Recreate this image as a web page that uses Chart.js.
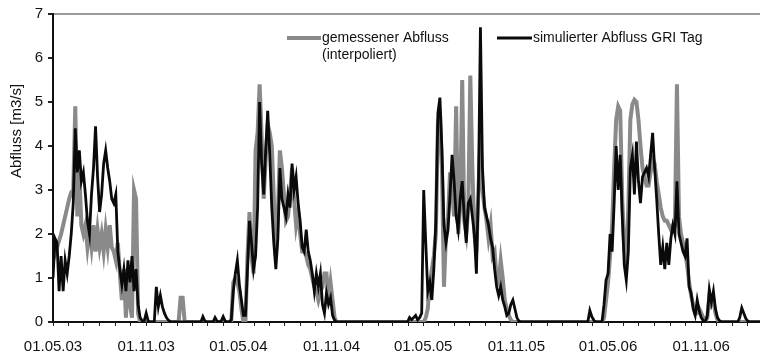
<!DOCTYPE html>
<html>
<head>
<meta charset="utf-8">
<script src="https://cdn.jsdelivr.net/npm/chart.js@4"></script>
<style>
  html, body { margin: 0; padding: 0; background: #fff; }
  #abfluss { display: block; }
</style>
</head>
<body>
<canvas id="abfluss" width="760" height="353"></canvas>
<script>
// one sample every 4 days, starting 01.05.2003
const stepDays = 4;

const measured = [
    1.4, 1.55, 1.7, 1.85, 2.0, 2.2, 2.4, 2.6, 2.8, 2.95,
    3.0, 4.9, 2.4, 3.4, 2.2, 2.0, 2.2, 1.7, 2.1, 1.7,
    2.2, 1.6, 2.1, 1.7, 2.0, 1.6, 2.1, 1.7, 2.2, 1.7,
    1.6, 1.4, 1.8, 1.1, 0.5, 1.2, 0.1, 1.0, 0.4, 0.1,
    3.0, 2.8, 0.2, 0, 0, 0, 0, 0, 0, 0,
    0, 0, 0, 0, 0, 0, 0, 0, 0, 0,
    0, 0, 0, 0.55, 0.55, 0, 0, 0, 0, 0,
    0, 0, 0, 0, 0, 0, 0, 0, 0, 0,
    0, 0, 0, 0, 0, 0, 0, 0, 0, 0.9,
    1.0, 0.9, 0.7, 0.3, 0, 0, 1.5, 2.5, 1.5, 1.1,
    3.9, 4.3, 5.4, 4.2, 2.8, 3.7, 4.5, 4.3, 4.0, 2.8,
    1.5, 2.4, 3.9, 3.5, 2.9, 2.3, 2.4, 2.9, 3.5, 2.8,
    2.2, 2.5, 2.0, 1.6, 1.6, 1.5, 1.3, 1.2, 1.0, 0.8,
    0.7, 0.5, 0.7, 0.8, 1.1, 1.1, 0.5, 0.9, 0.5, 0.1,
    0, 0, 0, 0, 0, 0, 0, 0, 0, 0,
    0, 0, 0, 0, 0, 0, 0, 0, 0, 0,
    0, 0, 0, 0, 0, 0, 0, 0, 0, 0,
    0, 0, 0, 0, 0, 0, 0, 0, 0, 0,
    0, 0, 0, 0, 0.1, 0.3, 0.9, 1.2, 1.5, 2.0,
    4.5, 4.8, 3.5, 0.8, 2.0, 2.4, 3.4, 3.0, 2.4, 4.9,
    2.0, 2.6, 5.5, 2.3, 2.0, 2.6, 5.6, 3.5, 2.0, 1.6,
    3.0, 4.2, 3.0, 2.6, 2.3, 1.9, 2.2, 1.5, 1.6, 1.0,
    0.9, 1.4, 1.0, 0.5, 0.3, 0.15, 0.05, 0, 0, 0,
    0, 0, 0, 0, 0, 0, 0, 0, 0, 0,
    0, 0, 0, 0, 0, 0, 0, 0, 0, 0,
    0, 0, 0, 0, 0, 0, 0, 0, 0, 0,
    0, 0, 0, 0, 0, 0, 0, 0, 0, 0,
    0, 0, 0.1, 0.5, 0.9, 1.5, 2.2, 3.5, 4.6, 4.9,
    4.8, 2.8, 1.7, 1.3, 2.6, 4.6, 4.95, 5.05, 5.0, 4.6,
    4.0, 3.5, 3.3, 3.1, 3.1, 3.4, 3.7, 3.6, 3.2, 2.9,
    2.6, 2.4, 2.3, 2.3, 2.2, 2.1, 2.2, 2.2, 5.4, 2.4,
    2.0, 1.8, 1.6, 1.3, 0.9, 0.6, 0.4, 0.2, 0.2, 0.3,
    0.2, 0.1, 0, 0.1, 0.6, 0.4, 0.5, 0.2, 0.05, 0,
    0, 0, 0, 0, 0, 0, 0, 0, 0, 0,
    0, 0, 0, 0, 0, 0, 0, 0, 0, 0
];

const simulated = [
    1.0, 1.9, 1.8, 0.7, 1.5, 0.7, 1.4, 1.1, 1.5, 2.0,
    2.7, 4.4, 3.4, 3.9, 3.2, 3.4, 2.9, 2.3, 2.0, 2.9,
    3.5, 4.45, 3.3, 2.5, 2.9, 3.6, 3.9, 3.5, 3.2, 2.8,
    2.7, 2.9, 1.6, 1.2, 0.85, 1.2, 0.7, 1.4, 0.9, 1.5,
    0.7, 1.2, 0.4, 0.1, 0.03, 0.02, 0.2, 0.02, 0, 0,
    0, 0.8, 0.35, 0.6, 0.35, 0.2, 0.1, 0.04, 0.01, 0,
    0, 0, 0, 0, 0, 0, 0, 0, 0, 0,
    0, 0, 0, 0, 0.12, 0.02, 0, 0, 0, 0,
    0.1, 0.02, 0, 0.02, 0.12, 0.02, 0, 0, 0.05, 0.7,
    1.1, 1.4, 0.85, 0.5, 0.15, 0.15, 1.2, 2.3, 1.8, 1.2,
    1.5, 2.6, 5.0, 3.6, 2.9, 3.9, 4.8, 3.8, 2.6, 1.8,
    1.2, 1.9, 3.5, 2.8, 2.6, 2.4, 2.9, 2.6, 3.6, 3.0,
    3.3, 2.7, 2.3, 1.7, 1.6, 2.1, 1.6, 1.4, 1.1, 0.7,
    1.1, 0.8, 1.1, 0.4, 0.2, 0.65, 0.4, 0.55, 0.15, 0.04,
    0, 0, 0, 0, 0, 0, 0, 0, 0, 0,
    0, 0, 0, 0, 0, 0, 0, 0, 0, 0,
    0, 0, 0, 0, 0, 0, 0, 0, 0, 0,
    0, 0, 0, 0, 0, 0, 0.1, 0.05, 0.1, 0.15,
    0.05, 0.1, 0.2, 3.0, 1.8, 0.7, 0.9, 0.5, 1.2, 2.3,
    4.75, 5.1, 3.9, 2.2, 1.8, 2.1, 2.9, 3.8, 3.2, 2.4,
    2.1, 2.8, 3.2, 2.4, 1.8, 2.7, 2.8, 2.4, 2.0, 1.1,
    3.0, 6.7, 3.5, 2.6, 2.4, 2.2, 1.9, 1.7, 1.2, 0.8,
    0.6, 0.8, 0.5, 0.35, 0.15, 0.2, 0.4, 0.5, 0.3, 0.1,
    0.02, 0, 0, 0, 0, 0, 0, 0, 0, 0,
    0, 0, 0, 0, 0, 0, 0, 0, 0, 0,
    0, 0, 0, 0, 0, 0, 0, 0, 0, 0,
    0, 0, 0, 0, 0, 0.26, 0.12, 0.04, 0, 0,
    0, 0, 0.4, 0.95, 1.1, 2.0, 1.6, 2.7, 4.0, 3.0,
    3.8, 2.4, 1.3, 0.95, 1.6, 3.5, 3.8, 2.9, 4.1, 3.2,
    2.7, 3.3, 3.4, 3.5, 3.3, 3.8, 4.3, 3.5, 2.8, 2.0,
    1.3, 1.7, 1.2, 1.8, 1.3, 1.9, 2.2, 2.0, 3.2, 2.0,
    1.8, 1.6, 1.5, 1.9, 0.8, 0.65, 0.3, 0.15, 0.5, 0.25,
    0.1, 0.03, 0, 0.15, 0.73, 0.45, 0.7, 0.3, 0.1, 0.03,
    0, 0, 0, 0, 0, 0, 0, 0, 0, 0.1,
    0.32, 0.2, 0.08, 0.02, 0, 0, 0, 0, 0, 0
];

const tickLabels = ['01.05.03', '01.11.03', '01.05.04', '01.11.04',
                    '01.05.05', '01.11.05', '01.05.06', '01.11.06'];
const seriesNames = ['gemessener Abfluss', '(interpoliert)', 'simulierter Abfluss GRI Tag'];
const yTitle = 'Abfluss [m3/s]';

const fontFamily = "'Liberation Sans', Arial, sans-serif";
const grey = '#8a8a8a';
const black = '#0a0a0a';

// days since start date, used for the monthly ticks
const start = Date.UTC(2003, 4, 1);
function dayOf(y, m) { return Math.round((Date.UTC(y, m, 1) - start) / 86400000); }
function fmt(y, m) {
    return '01.' + String(m + 1).padStart(2, '0') + '.' + String(y % 100).padStart(2, '0');
}
const lastDay = (measured.length - 1) * stepDays;
const monthTicks = [];
const monthNames = {};
for (let y = 2003, m = 4; ; m++) {
    if (m > 11) { m = 0; y++; }
    const d = dayOf(y, m);
    if (d > lastDay) break;
    monthTicks.push(d);
    monthNames[d] = fmt(y, m);
}

const toPoints = arr => arr.map((v, i) => ({ x: i * stepDays, y: v }));

const legendPlugin = {
    id: 'legendAndTitle',
    afterDraw(chart) {
        const c = chart.ctx;
        c.save();
        c.font = '14px ' + fontFamily;
        c.fillStyle = '#111';
        c.textBaseline = 'middle';
        c.lineCap = 'butt';

        c.strokeStyle = grey;
        c.lineWidth = 4;
        c.beginPath(); c.moveTo(287, 38); c.lineTo(321, 38); c.stroke();
        c.fillText(seriesNames[0], 322, 38);
        c.fillText(seriesNames[1], 322, 55);

        c.strokeStyle = black;
        c.lineWidth = 3;
        c.beginPath(); c.moveTo(497, 38); c.lineTo(532, 38); c.stroke();
        c.fillText(seriesNames[2], 533, 38);

        c.translate(17, 131);
        c.rotate(-Math.PI / 2);
        c.textAlign = 'center';
        c.font = '15px ' + fontFamily;
        c.fillText(yTitle, 0, 0);
        c.restore();
    }
};

new Chart(document.getElementById('abfluss'), {
    type: 'line',
    data: {
        datasets: [{
            label: seriesNames[0] + ' ' + seriesNames[1],
            data: toPoints(measured),
            borderColor: grey,
            borderWidth: 4,
            pointRadius: 0,
            tension: 0,
            order: 2
        }, {
            label: seriesNames[2],
            data: toPoints(simulated),
            borderColor: black,
            borderWidth: 2.8,
            pointRadius: 0,
            tension: 0,
            order: 1
        }]
    },
    options: {
        responsive: false,
        animation: false,
        layout: { padding: { top: 10, right: 0, left: 0, bottom: 0 } },
        plugins: {
            legend: { display: false },
            tooltip: { enabled: false }
        },
        scales: {
            x: {
                type: 'linear',
                min: 0,
                max: lastDay,
                afterBuildTicks(scale) {
                    scale.ticks = monthTicks.map(v => ({ value: v }));
                },
                afterFit(scale) { scale.height = 31; },
                ticks: {
                    autoSkip: false,
                    maxRotation: 0,
                    padding: 12,
                    color: '#111',
                    font: { family: fontFamily, size: 15 },
                    callback(value) {
                        const name = monthNames[value];
                        return tickLabels.includes(name) ? name : '';
                    }
                },
                grid: {
                    drawOnChartArea: false,
                    tickLength: 4,
                    tickColor: '#222',
                    lineWidth: 1
                },
                border: { color: '#111', width: 2 }
            },
            y: {
                min: 0,
                max: 7,
                afterFit(scale) { scale.width = 53; },
                ticks: {
                    stepSize: 1,
                    padding: 5,
                    color: '#111',
                    font: { family: fontFamily, size: 15 }
                },
                grid: {
                    color: ctx => ctx.tick && ctx.tick.value === 7 ? '#9a9a9a' : 'rgba(0,0,0,0)',
                    lineWidth: 2,
                    tickLength: 5,
                    tickColor: '#222'
                },
                border: { color: '#111', width: 2 }
            }
        }
    },
    plugins: [legendPlugin]
});
</script>
</body>
</html>
